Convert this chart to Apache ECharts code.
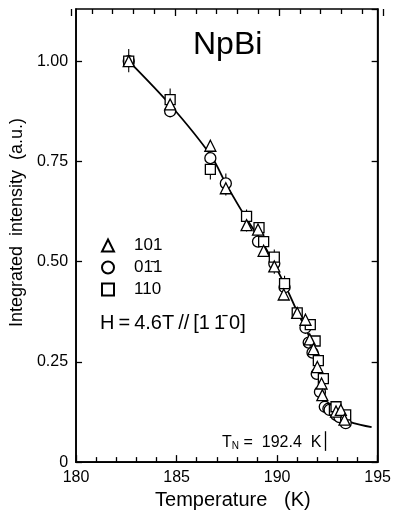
<!DOCTYPE html>
<html>
<head>
<meta charset="utf-8">
<script src="https://cdn.jsdelivr.net/npm/echarts@6/dist/echarts.min.js"></script>
<style>
html,body{margin:0;padding:0;background:#fff;}
#chart{width:394px;height:515px;}
</style>
</head>
<body>
<div id="chart"></div>
<script>
// ---- data ----
const triT = [182.62, 184.68, 186.68, 187.45, 188.48, 189.05, 189.33, 189.86, 190.33, 191.00, 191.41, 191.62, 191.81, 192.00, 192.21, 192.25, 192.93, 193.17, 193.35];
const triI = [1.000, 0.892, 0.789, 0.683, 0.591, 0.580, 0.527, 0.488, 0.418, 0.372, 0.355, 0.306, 0.282, 0.237, 0.196, 0.167, 0.126, 0.130, 0.106];

const cirT = [182.62, 184.68, 186.68, 187.45, 189.05, 189.86, 190.37, 191.41, 191.57, 191.76, 191.97, 192.13, 192.37, 192.55, 192.61, 192.93, 193.10, 193.41];
const cirI = [1.000, 0.875, 0.758, 0.695, 0.550, 0.495, 0.436, 0.335, 0.298, 0.273, 0.220, 0.175, 0.138, 0.133, 0.130, 0.118, 0.112, 0.097];

const sqT = [182.62, 184.68, 186.68, 188.48, 189.10, 189.33, 189.86, 190.37, 191.00, 191.65, 191.89, 192.05, 192.30, 192.85, 192.93, 193.41];
const sqI = [1.000, 0.904, 0.730, 0.613, 0.585, 0.550, 0.511, 0.445, 0.372, 0.343, 0.302, 0.253, 0.208, 0.130, 0.138, 0.118];

const fitT = [182.62, 184.7, 186.7, 187.5, 188.5, 189.3, 190.0, 190.5, 191.0, 191.5, 191.8, 192.1, 192.3, 192.5, 192.8, 193.2, 193.8, 194.7];
const fitI = [1.000, 0.890, 0.765, 0.690, 0.605, 0.545, 0.480, 0.430, 0.375, 0.325, 0.280, 0.230, 0.180, 0.145, 0.125, 0.110, 0.097, 0.087];

const errT  = [182.62, 184.68, 186.68, 187.45, 188.48, 189.33, 189.86, 190.37, 191.41, 192.05];
const errLo = [0.972, 0.880, 0.705, 0.665, 0.575, 0.525, 0.470, 0.415, 0.320, 0.230];
const errHi = [1.030, 0.932, 0.745, 0.720, 0.630, 0.570, 0.530, 0.465, 0.370, 0.275];

const seriesNames = ['101', '01\u03041', '110'];
const xTicks = [180, 185, 190, 195];
const yTicks = [0, 0.25, 0.50, 0.75, 1.00];
const tnValue = 192.4;
const tnArrow = [0.028, 0.077];
const titleText = 'NpBi';
const fieldText = 'H\u2009=\u20094.6T\u2009//\u2009[1\u20091\u0304\u20090]';

const zip = (a, b) => a.map((v, i) => [v, b[i]]);
const FONT = '"Liberation Sans", Arial, Helvetica, sans-serif';

const chart = echarts.init(document.getElementById('chart'), null, {renderer: 'canvas'});

const symStyle = {color: '#fff', borderColor: '#000', borderWidth: 1.3, opacity: 1};
const lineSt = () => ({show: true, onZero: false, lineStyle: {color: '#000', width: 1.6}});

const option = {
  animation: false,
  backgroundColor: '#fff',
  grid: [
    {left: 71, right: 11, top: 9, bottom: 47, show: true, borderColor: '#000', borderWidth: 1.6, backgroundColor: 'transparent'},
    // thin strip along the top edge, used only to carry the top tick marks
    {left: 71, right: 11, top: 8, height: 1, show: false}
  ],
  legend: {
    orient: 'vertical',
    left: 96,
    top: 232,
    itemWidth: 12,
    itemHeight: 12,
    itemGap: 5,
    data: seriesNames,
    textStyle: {fontFamily: FONT, fontSize: 17, color: '#000', padding: [0, 0, 0, 15]},
    selectedMode: false
  },
  graphic: [
    {type: 'text', left: 193, top: 29, style: {text: titleText, font: '32px ' + FONT, fill: '#000'}},
    {type: 'text', left: 100, top: 313, style: {text: fieldText, font: '20px ' + FONT, fill: '#000'}}
  ],
  xAxis: [
    {
      type: 'value', min: 180, max: 195, interval: 5,
      position: 'bottom', gridIndex: 0,
      axisLine: lineSt(), splitLine: {show: false},
      name: 'Temperature   (K)', nameLocation: 'middle', nameGap: 25,
      nameTextStyle: {fontFamily: FONT, fontSize: 20, color: '#000', padding: [0, 0, 0, 12]},
      axisTick: {show: true, inside: true, length: 7, lineStyle: {color: '#000', width: 1.3}},
      minorTick: {show: true, splitNumber: 5, length: 5, lineStyle: {color: '#000', width: 1.3}},
      axisLabel: {fontFamily: FONT, fontSize: 16, color: '#000', margin: 7,
        formatter: v => xTicks.indexOf(v) >= 0 ? String(v) : ''}
    },
    {
      type: 'value', min: 180, max: 195, interval: 5,
      position: 'bottom', gridIndex: 1,
      axisLine: {show: false, onZero: false}, splitLine: {show: false},
      axisTick: {show: true, inside: false, length: 7, lineStyle: {color: '#000', width: 1.3}},
      minorTick: {show: true, splitNumber: 5, length: 5, lineStyle: {color: '#000', width: 1.3}},
      axisLabel: {show: false}
    }
  ],
  yAxis: [
    {
      type: 'value', min: 0, max: 1.13, interval: 0.25,
      position: 'left', gridIndex: 0,
      axisLine: lineSt(), splitLine: {show: false},
      name: 'Integrated  intensity  (a.u.)', nameLocation: 'middle', nameGap: 47,
      nameTextStyle: {fontFamily: FONT, fontSize: 18, color: '#000', padding: [0, 0, 0, 26]},
      axisTick: {show: true, inside: true, length: 6, lineStyle: {color: '#000', width: 1.3}},
      axisLabel: {fontFamily: FONT, fontSize: 16, color: '#000', margin: 8, showMaxLabel: false,
        formatter: v => {
          const k = yTicks.findIndex(t => Math.abs(t - v) < 1e-6);
          if (k < 0) return '';
          return v === 0 ? '0' : v.toFixed(2);
        }}
    },
    {
      type: 'value', min: 0, max: 1.13, interval: 0.25,
      position: 'right', gridIndex: 0,
      axisLine: lineSt(), splitLine: {show: false},
      axisTick: {show: true, inside: true, length: 6, lineStyle: {color: '#000', width: 1.3}},
      axisLabel: {show: false}
    },
    {
      type: 'value', min: 0, max: 1, gridIndex: 1, show: false
    }
  ],
  series: [
    {
      name: 'fit', type: 'line', data: zip(fitT, fitI), smooth: 0.3,
      symbol: 'none', lineStyle: {color: '#000', width: 1.8}, z: 1,
      markLine: {
        silent: true, symbol: ['none', 'arrow'], symbolSize: [0, 6],
        lineStyle: {color: '#000', width: 1.3, type: 'solid'},
        label: {show: false},
        data: [[{coord: [tnValue, tnArrow[0]]}, {coord: [tnValue, tnArrow[1]]}]]
      },
      markPoint: {
        symbol: 'circle', symbolSize: 0,
        data: [{coord: [tnValue, 0.049]}],
        label: {
          show: true, position: 'left', distance: 4,
          formatter: '{a|T}{b|N}{a| =  ' + tnValue.toFixed(1) + '  K}',
          rich: {
            a: {fontFamily: FONT, fontSize: 16, color: '#000'},
            b: {fontFamily: FONT, fontSize: 10, color: '#000', verticalAlign: 'bottom', padding: [8, 0, 0, 0]}
          }
        }
      }
    },
    {
      name: 'err', type: 'custom', z: 2,
      data: errT.map((t, i) => [t, errLo[i], errHi[i]]),
      encode: {x: 0, y: [1, 2]},
      renderItem: (params, api) => {
        const p1 = api.coord([api.value(0), api.value(1)]);
        const p2 = api.coord([api.value(0), api.value(2)]);
        return {type: 'line', shape: {x1: p1[0], y1: p1[1], x2: p2[0], y2: p2[1]},
          style: {stroke: '#000', lineWidth: 1.1}};
      }
    },
    {
      name: seriesNames[1], type: 'scatter', data: zip(cirT, cirI),
      symbol: 'circle', symbolSize: 11, itemStyle: symStyle, z: 3
    },
    {
      name: seriesNames[2], type: 'scatter', data: zip(sqT, sqI),
      symbol: 'rect', symbolSize: 10, itemStyle: symStyle, z: 4
    },
    {
      name: seriesNames[0], type: 'scatter', data: zip(triT, triI),
      symbol: 'triangle', symbolSize: 11, itemStyle: symStyle, z: 5
    }
  ]
};
chart.setOption(option);
</script>
</body>
</html>
